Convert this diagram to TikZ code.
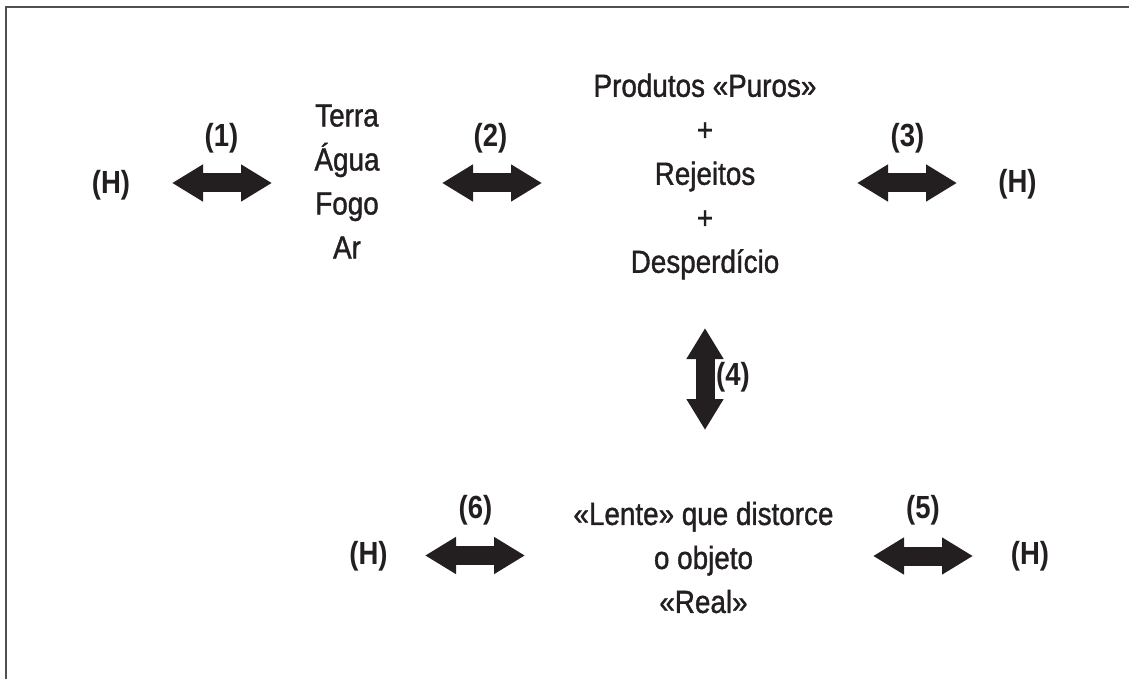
\documentclass[tikz,border=0pt]{standalone}
\usepackage{fontspec}
\setmainfont{Liberation Sans}[FakeStretch=0.87]
\newfontfamily\medfont{Liberation Sans}[FakeStretch=0.87,FakeBold=1.2]
\newfontfamily\lblfont{Liberation Sans Bold}[FakeStretch=0.86]
\usetikzlibrary{arrows.meta}
\definecolor{ink}{HTML}{231F20}
\definecolor{framec}{HTML}{505050}
\tikzset{
  txt/.style={font=\medfont\fontsize{32}{44}\selectfont, align=center, inner sep=0pt, text=ink},
  lbl/.style={font=\lblfont\fontsize{32}{44}\selectfont, inner sep=0pt, text=ink},
  dblarrow/.style={draw=ink, line width=19pt,
    {Triangle[length=31pt,width=35pt]}-{Triangle[length=31pt,width=35pt]}},
  framestyle/.style={draw=framec, line width=2pt},
}
\begin{document}
\begin{tikzpicture}[x=1pt,y=-1pt]
\useasboundingbox (0,0) rectangle (1129,679);
\draw[framestyle] (5.5,680) -- (5.5,7) -- (1130,7);

% text blocks
\node[txt] (elem) at (347,181.5) {Terra\\Água\\Fogo\\Ar};
\node[txt] (prod) at (705,176.5) {Produtos «Puros»\\+\\Rejeitos\\+\\Desperdício};
\node[txt] (lente) at (703.5,557.5) {«Lente» que distorce\\o objeto\\«Real»};

% (H) nodes
\node[lbl] (h1) at (111,185) {(H)};
\node[lbl] (h2) at (1017.5,184) {(H)};
\node[lbl] (h3) at (368.5,556) {(H)};
\node[lbl] (h4) at (1030,556) {(H)};

% number labels
\node[lbl] (l1) at (221.5,138) {(1)};
\node[lbl] (l2) at (490.5,138) {(2)};
\node[lbl] (l3) at (907.5,138) {(3)};
\node[lbl] (l4) at (733,377) {(4)};
\node[lbl] (l5) at (923,510) {(5)};
\node[lbl] (l6) at (475.5,510) {(6)};

% arrow end points
\coordinate (a1s) at (172,183);  \coordinate (a1e) at (272,183);
\coordinate (a2s) at (442,183);  \coordinate (a2e) at (542,183);
\coordinate (a3s) at (857,183);  \coordinate (a3e) at (957,183);
\coordinate (a4s) at (705,328);  \coordinate (a4e) at (705,430);
\coordinate (a5s) at (873,556);  \coordinate (a5e) at (973,556);
\coordinate (a6s) at (425,555.5);\coordinate (a6e) at (525,555.5);

\draw[dblarrow] (a1s) -- (a1e);
\draw[dblarrow] (a2s) -- (a2e);
\draw[dblarrow] (a3s) -- (a3e);
\draw[dblarrow] (a4s) -- (a4e);
\draw[dblarrow] (a5s) -- (a5e);
\draw[dblarrow] (a6s) -- (a6e);
\end{tikzpicture}
\end{document}
